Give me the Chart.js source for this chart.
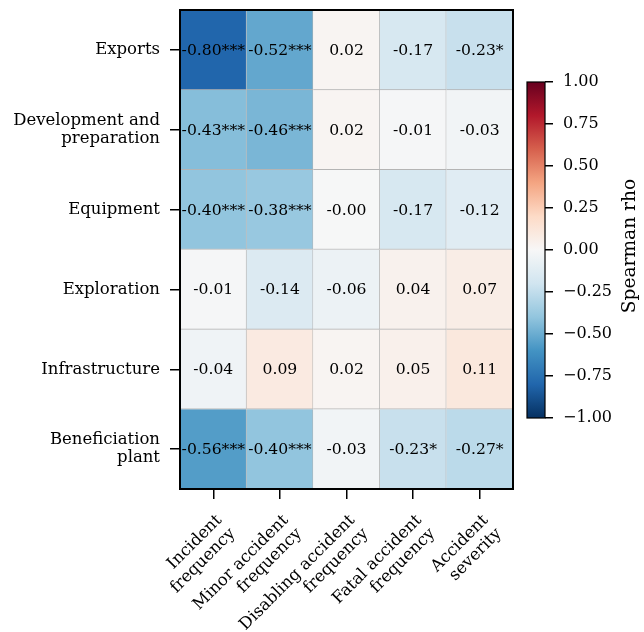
<!DOCTYPE html>
<html><head><meta charset="utf-8">
<script src="https://cdn.jsdelivr.net/npm/chart.js@4"></script>
<style>
html,body{margin:0;padding:0;background:#fff;}
#wrap{position:relative;width:644px;height:632px;}
canvas{position:absolute;left:0;top:0;}
</style></head><body>
<div id="wrap"><canvas id="heat" width="644" height="632"></canvas><canvas id="cbar" width="644" height="632"></canvas></div>
<script>
// ---- data ----
const rowLabels = [["Exports"], ["Development and", "preparation"], ["Equipment"], ["Exploration"], ["Infrastructure"], ["Beneficiation", "plant"]];
const colLabels = [["Incident", "frequency"], ["Minor accident", "frequency"], ["Disabling accident", "frequency"], ["Fatal accident", "frequency"], ["Accident", "severity"]];

const rhoExports        = [-0.80, -0.52,  0.02, -0.17, -0.23];
const rhoDevelopment    = [-0.43, -0.46,  0.02, -0.01, -0.03];
const rhoEquipment      = [-0.40, -0.38, -0.004, -0.17, -0.12];
const rhoExploration    = [-0.01, -0.14, -0.06,  0.04,  0.07];
const rhoInfrastructure = [-0.04,  0.09,  0.02,  0.05,  0.11];
const rhoBeneficiation  = [-0.56, -0.40, -0.03, -0.23, -0.27];

const starsExports        = ["***", "***", "", "", "*"];
const starsDevelopment    = ["***", "***", "", "", ""];
const starsEquipment      = ["***", "***", "", "", ""];
const starsExploration    = ["", "", "", "", ""];
const starsInfrastructure = ["", "", "", "", ""];
const starsBeneficiation  = ["***", "***", "", "*", "*"];

const colorbarTicks = [-1.00, -0.75, -0.50, -0.25, 0.00, 0.25, 0.50, 0.75, 1.00];
const colorbarLabel = "Spearman rho";

const rhoRows = [rhoExports, rhoDevelopment, rhoEquipment, rhoExploration, rhoInfrastructure, rhoBeneficiation];
const starRows = [starsExports, starsDevelopment, starsEquipment, starsExploration, starsInfrastructure, starsBeneficiation];

// RdBu_r colormap (ColorBrewer RdBu reversed)
const rdbuR = ["#053061", "#2166ac", "#4393c3", "#92c5de", "#d1e5f0", "#f7f7f7", "#fddbc7", "#f4a582", "#d6604d", "#b2182b", "#67001f"];
function hex2rgb(h) { return [parseInt(h.slice(1,3),16), parseInt(h.slice(3,5),16), parseInt(h.slice(5,7),16)]; }
function cmap(v) {
  let t = Math.max(0, Math.min(1, (v + 1) / 2));
  const p = t * (rdbuR.length - 1);
  const i = Math.min(rdbuR.length - 2, Math.floor(p));
  const f = p - i;
  const a = hex2rgb(rdbuR[i]), b = hex2rgb(rdbuR[i + 1]);
  const c = a.map((x, k) => Math.round(x + (b[k] - x) * f));
  return `rgb(${c[0]},${c[1]},${c[2]})`;
}

const FONT = '"DejaVu Serif", serif';
const FS = 16.5;      // tick labels
const FS_CELL = 15.6; // annotations
const FS_CB = 18.6;   // colorbar label
Chart.defaults.font.family = FONT;
Chart.defaults.font.size = FS;
Chart.defaults.color = '#000';

const cellText = {
  id: 'cellText',
  afterDatasetsDraw(chart) {
    const ctx = chart.ctx;
    ctx.save();
    ctx.font = `${FS_CELL}px ${FONT}`;
    ctx.fillStyle = '#000';
    ctx.textAlign = 'center';
    ctx.textBaseline = 'middle';
    chart.data.datasets.forEach((ds, i) => {
      chart.getDatasetMeta(i).data.forEach((el, j) => {
        const p = el.getProps(['x', 'y', 'base'], true);
        ctx.fillText(ds.rho[j].toFixed(2) + ds.stars[j], p.x, (p.y + p.base) / 2 + 1);
      });
    });
    ctx.restore();
  }
};
const frame = {
  id: 'frame',
  afterDraw(chart, args, opts) {
    const a = chart.chartArea, ctx = chart.ctx;
    ctx.save();
    ctx.strokeStyle = '#000';
    ctx.lineWidth = opts.width || 2;
    ctx.strokeRect(a.left, a.top, a.right - a.left, a.bottom - a.top);
    ctx.restore();
  }
};

new Chart(document.getElementById('heat'), {
  type: 'bar',
  data: {
    labels: colLabels,
    datasets: rhoRows.map((vals, i) => ({
      label: rowLabels[i].join(' '),
      data: vals.map(() => 1),
      rho: vals,
      stars: starRows[i],
      backgroundColor: vals.map(cmap),
      borderColor: '#b4b4b4',
      borderWidth: { top: 0, left: 0, right: 1, bottom: 1 },
      borderSkipped: false,
      barPercentage: 1,
      categoryPercentage: 1
    }))
  },
  options: {
    responsive: false,
    animation: false,
    events: [],
    layout: { padding: { left: 0, top: 10, right: 131, bottom: 0 } },
    plugins: { legend: { display: false }, tooltip: { enabled: false }, frame: { width: 2 } },
    scales: {
      x: {
        type: 'category', stacked: true, offset: true,
        grid: { offset: false, drawOnChartArea: false, drawTicks: true, tickLength: 10, color: '#000', lineWidth: 1.5 },
        border: { display: false },
        ticks: { minRotation: 45, maxRotation: 45, autoSkip: false, padding: 12, labelOffset: 6, color: '#000', font: { size: FS, lineHeight: 1.15 } },
        afterFit(s) { s.height = 143; s.paddingLeft = 0; s.paddingRight = 0; }
      },
      y: {
        type: 'linear', stacked: true, reverse: true, min: 0, max: 6,
        afterBuildTicks(s) { s.ticks = rowLabels.map((_, i) => ({ value: i + 0.5 })); },
        ticks: { callback: (v) => rowLabels[Math.floor(v)], padding: 10, color: '#000', font: { size: FS, lineHeight: 1.1 } },
        grid: { drawOnChartArea: false, drawTicks: true, tickLength: 10, color: '#000', lineWidth: 1.5 },
        border: { display: false },
        afterFit(s) { s.width = 180; s.paddingTop = 0; s.paddingBottom = 0; }
      }
    }
  },
  plugins: [cellText, frame]
});

const cbTitle = {
  id: 'cbTitle',
  afterDraw(chart) {
    const a = chart.chartArea, ctx = chart.ctx;
    ctx.save();
    ctx.font = `${FS_CB}px ${FONT}`;
    ctx.fillStyle = '#000';
    ctx.textAlign = 'center';
    ctx.textBaseline = 'middle';
    ctx.translate(630, (a.top + a.bottom) / 2 - 4);
    ctx.rotate(-Math.PI / 2);
    ctx.fillText(colorbarLabel, 0, 0);
    ctx.restore();
  }
};

new Chart(document.getElementById('cbar'), {
  type: 'bar',
  data: {
    labels: [''],
    datasets: [{
      data: [[colorbarTicks[0], colorbarTicks[colorbarTicks.length - 1]]],
      backgroundColor: (c) => {
        const a = c.chart.chartArea;
        if (!a) return '#fff';
        const g = c.chart.ctx.createLinearGradient(0, a.bottom, 0, a.top);
        rdbuR.forEach((col, i) => g.addColorStop(i / (rdbuR.length - 1), col));
        return g;
      },
      borderWidth: 0,
      barPercentage: 1,
      categoryPercentage: 1
    }]
  },
  options: {
    responsive: false,
    animation: false,
    events: [],
    layout: { padding: { left: 527, top: 82, right: 0, bottom: 214 } },
    plugins: { legend: { display: false }, tooltip: { enabled: false }, frame: { width: 1.2 } },
    scales: {
      x: { display: false },
      y: {
        position: 'right', min: -1, max: 1,
        afterBuildTicks(s) { s.ticks = colorbarTicks.map(v => ({ value: v })); },
        ticks: { callback: (v) => v.toFixed(2).replace('-', '\u2212'), padding: 10, color: '#000', font: { size: 16 } },
        grid: { drawOnChartArea: false, drawTicks: true, tickLength: 8, color: '#000', lineWidth: 1.5 },
        border: { display: false },
        afterFit(s) { s.width = 99; s.paddingTop = 0; s.paddingBottom = 0; }
      }
    }
  },
  plugins: [frame, cbTitle]
});
</script>
</body></html>
